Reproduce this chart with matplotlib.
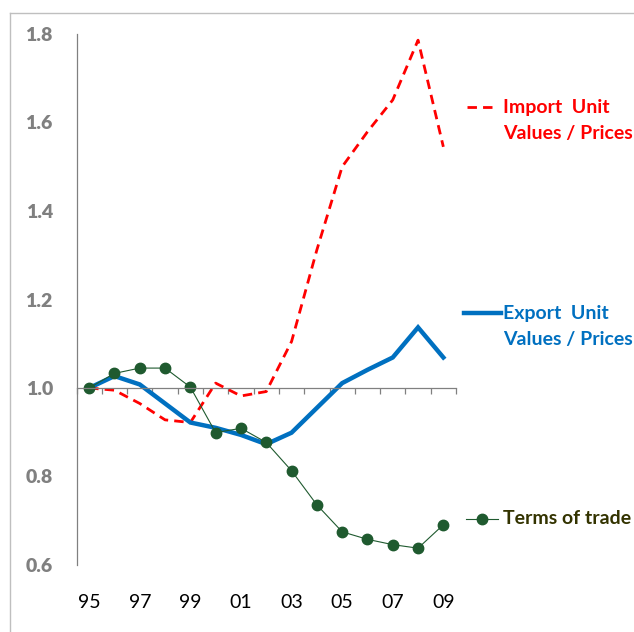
import matplotlib
matplotlib.use("Agg")
import matplotlib.pyplot as plt
from matplotlib.lines import Line2D

years = list(range(1995, 2010))
import_vals = [1.000, 0.995, 0.965, 0.928, 0.922, 1.011, 0.982, 0.992,
               1.105, 1.312, 1.500, 1.579, 1.651, 1.786, 1.545]
export_vals = [1.000, 1.027, 1.008, 0.965, 0.922, 0.910, 0.894, 0.873,
               0.899, 0.955, 1.011, 1.041, 1.069, 1.137, 1.069]
tot_vals = [1.000, 1.033, 1.045, 1.045, 1.002, 0.899, 0.909, 0.877,
            0.813, 0.736, 0.675, 0.658, 0.646, 0.638, 0.691]
xtick_years = [1995, 1997, 1999, 2001, 2003, 2005, 2007, 2009]
xtick_labels = ["95", "97", "99", "01", "03", "05", "07", "09"]
yticks = [0.6, 0.8, 1.0, 1.2, 1.4, 1.6, 1.8]

RED = "#FF0000"
BLUE = "#0070C0"
GREEN = "#1F5A2F"
OLIVE = "#333300"
GREY = "#808080"
FONT = "Lato"
LEG_FS = 14

W, H = 634, 632
fig = plt.figure(figsize=(W / 100, H / 100), dpi=100)
ax = fig.add_axes([76.5 / W, (H - 565) / H, 379.5 / W, 531 / H])

ax.plot(years, import_vals, color=RED, lw=2.0, dashes=(3.4, 2.2))
ax.plot(years, export_vals, color=BLUE, lw=3.2, solid_joinstyle="miter")
ax.plot(years, tot_vals, color=GREEN, lw=0.8, marker="o", ms=7.5,
        markeredgecolor=GREEN, markerfacecolor=GREEN)

ax.set_xlim(1994.5, 2009.5)
ax.set_ylim(0.6, 1.8)

for s in ["top", "right"]:
    ax.spines[s].set_visible(False)
ax.spines["left"].set_color(GREY)
ax.spines["left"].set_linewidth(0.9)
ax.spines["bottom"].set_position(("data", 1.0))
ax.spines["bottom"].set_color(GREY)
ax.spines["bottom"].set_linewidth(0.9)

boundaries = [y - 0.5 for y in years] + [years[-1] + 0.5]
ax.set_xticks(boundaries)
ax.tick_params(axis="x", direction="out", length=4, width=0.9, color=GREY,
               labelbottom=False)

ax.set_yticks(yticks)
ax.set_yticklabels([f"{v:.1f}" for v in yticks])
ax.tick_params(axis="y", length=0, pad=17)
for lab in ax.get_yticklabels():
    lab.set_fontfamily(FONT)
    lab.set_fontweight("heavy")
    lab.set_fontsize(14)
    lab.set_color(GREY)

sec = ax.secondary_xaxis(location=0)
sec.set_xticks(xtick_years)
sec.set_xticklabels(xtick_labels)
sec.spines["bottom"].set_visible(False)
sec.tick_params(axis="x", length=0, pad=21)
for lab in sec.get_xticklabels():
    lab.set_fontfamily(FONT)
    lab.set_fontsize(14)
    lab.set_color("black")

def px(x, y):
    return x / W, (H - y) / H

def add_line(x1, x2, y, **kw):
    a = px(x1, y)
    b = px(x2, y)
    fig.add_artist(Line2D([a[0], b[0]], [a[1], b[1]], transform=fig.transFigure, **kw))

add_line(467, 498, 107, color=RED, lw=2.0, dashes=(3.4, 2.2))
fig.text(*px(503, 107), "Import  Unit", color=RED, fontfamily=FONT,
         fontweight="bold", fontsize=LEG_FS, va="center", ha="left")
fig.text(*px(503, 134), "Values / Prices", color=RED, fontfamily=FONT,
         fontweight="bold", fontsize=LEG_FS, va="center", ha="left")

add_line(464, 501, 313, color=BLUE, lw=3.2)
fig.text(*px(503, 313), "Export  Unit", color=BLUE, fontfamily=FONT,
         fontweight="bold", fontsize=LEG_FS, va="center", ha="left")
fig.text(*px(503, 340), "Values / Prices", color=BLUE, fontfamily=FONT,
         fontweight="bold", fontsize=LEG_FS, va="center", ha="left")

add_line(466, 498, 519, color=GREEN, lw=0.8)
a = px(482, 519)
fig.add_artist(Line2D([a[0]], [a[1]], transform=fig.transFigure,
                      marker="o", ms=7.5, color=GREEN, lw=0))
fig.text(*px(503, 519), "Terms of trade", color=OLIVE, fontfamily=FONT,
         fontweight="bold", fontsize=LEG_FS, va="center", ha="left")

# outer frame
add_line(10, W, 12.5, color="#BFBFBF", lw=1.0)
l1 = px(10, 12.5); l2 = px(10, H)
fig.add_artist(Line2D([l1[0], l2[0]], [l1[1], l2[1]], transform=fig.transFigure,
                      color="#BFBFBF", lw=1.0))

fig.savefig("out.png", dpi=100)
